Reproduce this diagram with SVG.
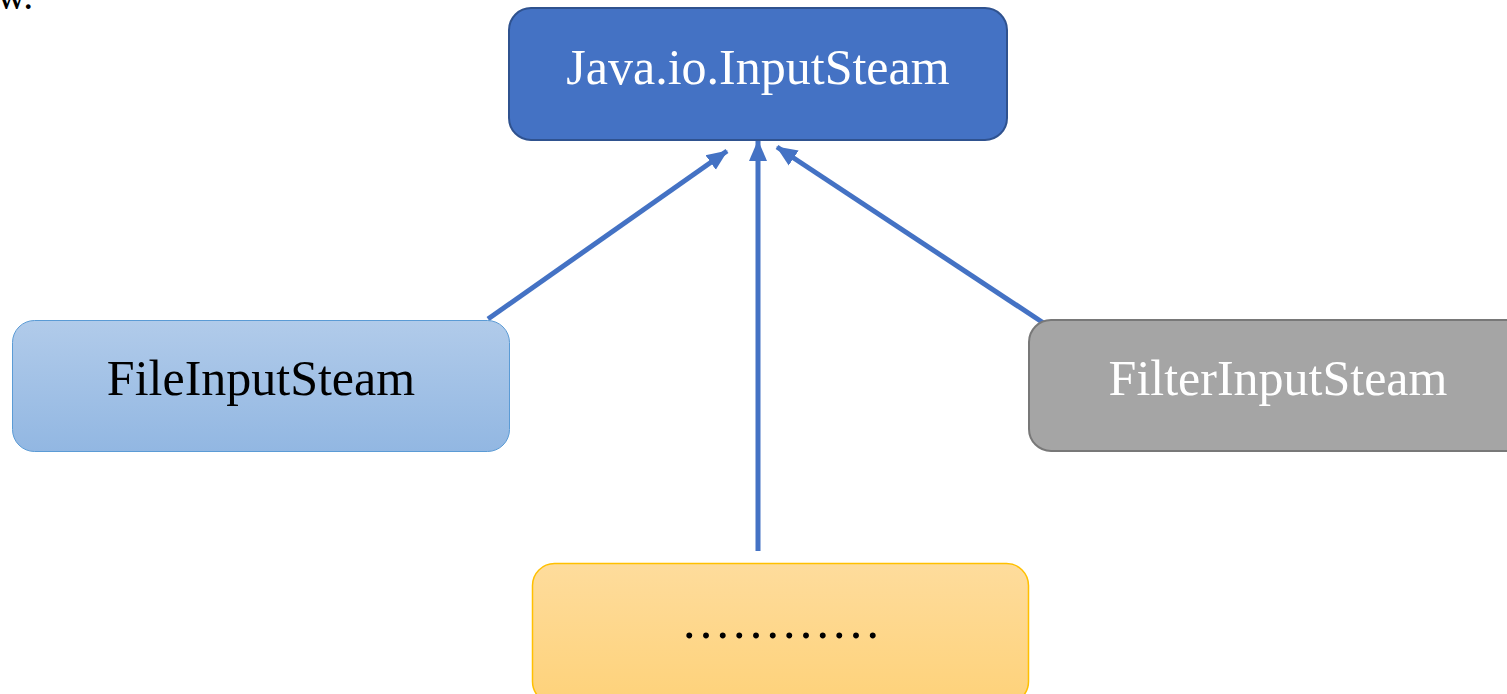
<svg xmlns="http://www.w3.org/2000/svg" width="1507" height="694" viewBox="0 0 1507 694">
<style>
.lbl{font-family:"Liberation Serif","Times New Roman",serif;font-size:50px;text-anchor:middle}
.conn{stroke:#4472C4;stroke-width:5;fill:none;marker-end:url(#ah)}
</style>
<defs>
<marker id="ah" markerUnits="userSpaceOnUse" markerWidth="22" markerHeight="20" viewBox="0 0 22 20" refX="20" refY="10" orient="auto">
<path d="M0,1 L21,10 L0,19 Z" fill="#4472C4"/>
</marker>
<linearGradient id="gBlue" x1="0" y1="0" x2="0" y2="1">
<stop offset="0" stop-color="#B1CBEA"/>
<stop offset="1" stop-color="#92B7E2"/>
</linearGradient>
<linearGradient id="gYel" x1="0" y1="0" x2="0" y2="1">
<stop offset="0" stop-color="#FEDC9C"/>
<stop offset="1" stop-color="#FED27A"/>
</linearGradient>
</defs>
<rect width="1507" height="694" fill="#FFFFFF"/>
<text x="-3" y="9" font-family="Liberation Serif, serif" font-size="40" fill="#000">w.</text>
<g id="connectors">
<line class="conn" x1="488" y1="319" x2="727" y2="151"/>
<line class="conn" x1="758" y1="551" x2="758" y2="141"/>
<line class="conn" x1="1045" y1="324" x2="777" y2="147"/>
</g>
<g id="node-inputstream">
<rect x="509" y="8" width="498" height="132" rx="22" fill="#4472C4" stroke="#2F528F" stroke-width="2"/>
<text class="lbl" x="758" y="84" fill="#FFFFFF">Java.io.InputSteam</text>
</g>
<g id="node-fileinputstream">
<rect x="12.5" y="320.5" width="497" height="131" rx="22" fill="url(#gBlue)" stroke="#5B9BD5" stroke-width="1"/>
<text class="lbl" x="261" y="395" fill="#000000">FileInputSteam</text>
</g>
<g id="node-filterinputstream">
<rect x="1029" y="320" width="498" height="131" rx="22" fill="#A5A5A5" stroke="#787878" stroke-width="2"/>
<text class="lbl" x="1278" y="395" fill="#FFFFFF">FilterInputSteam</text>
</g>
<g id="node-other">
<rect x="532.5" y="563.5" width="496" height="140" rx="22" fill="url(#gYel)" stroke="#FFC000" stroke-width="1.5"/>
<text class="lbl" x="781" y="638" fill="#000000">…………</text>
</g>
</svg>
